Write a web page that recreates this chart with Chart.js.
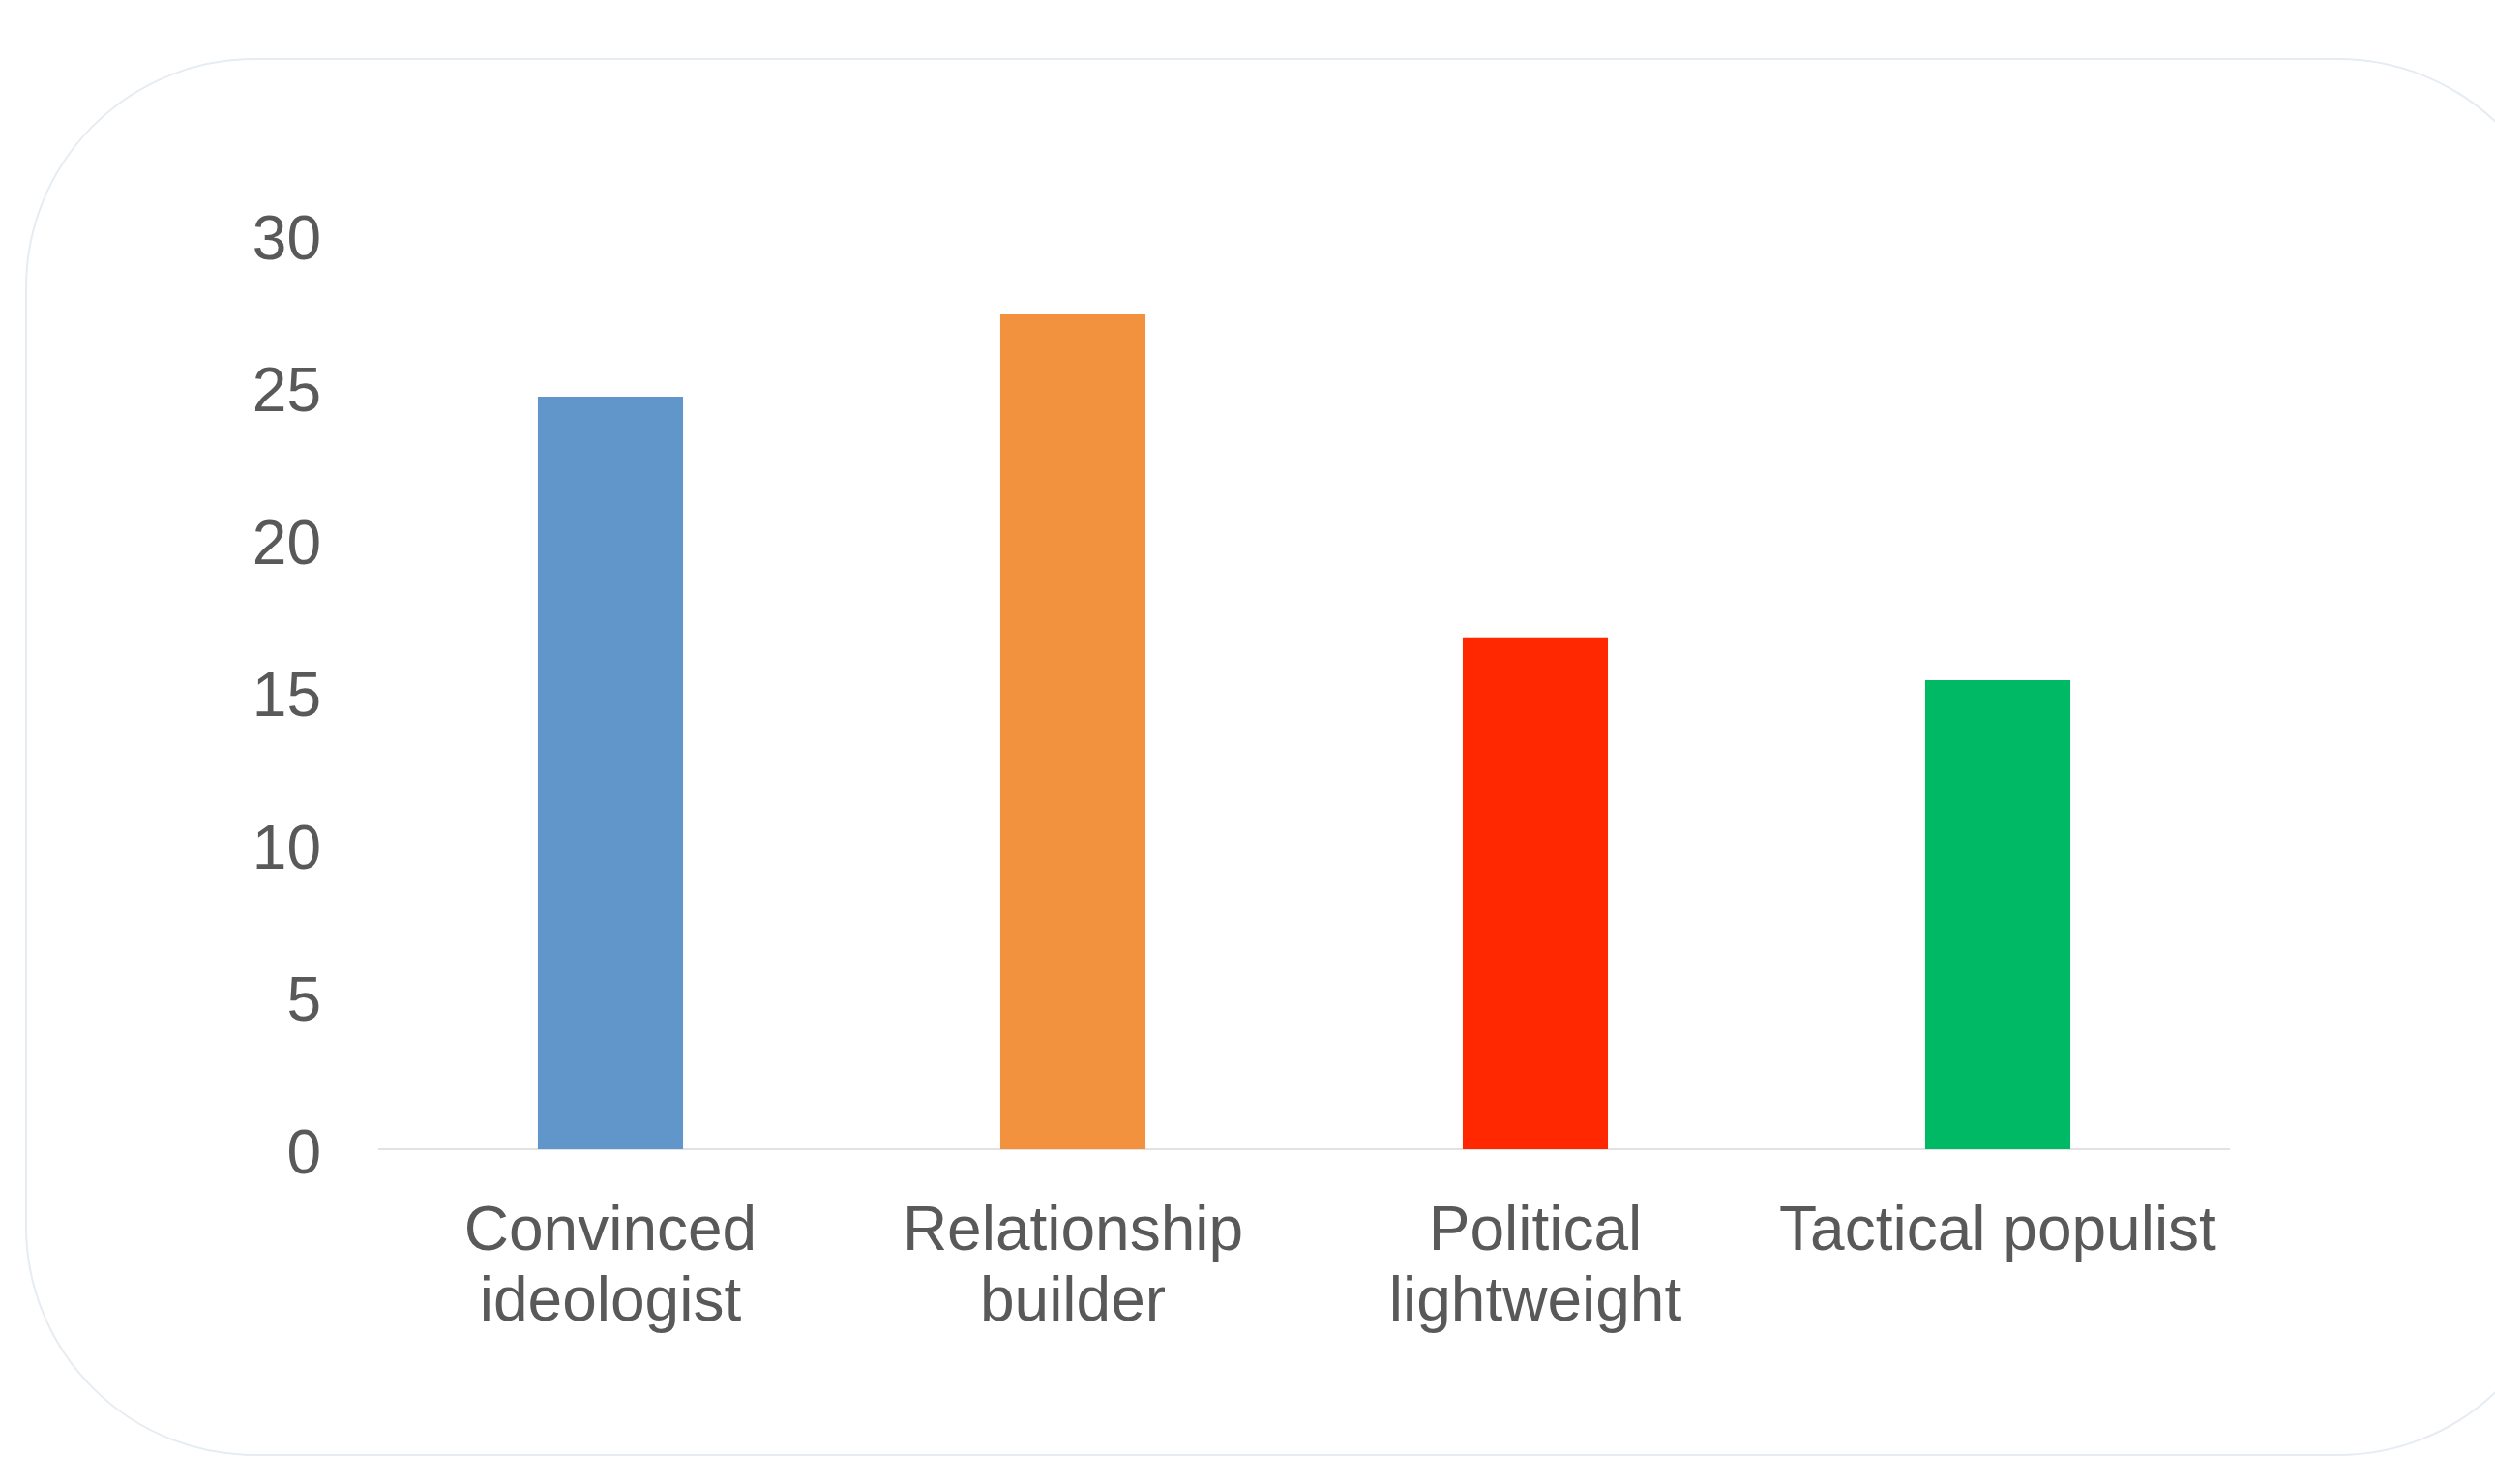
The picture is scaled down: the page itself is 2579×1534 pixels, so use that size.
<!DOCTYPE html>
<html>
<head>
<meta charset="utf-8">
<script src="https://cdn.jsdelivr.net/npm/chart.js@4/dist/chart.umd.min.js"></script>
<style>
  html, body { margin: 0; padding: 0; background: #ffffff; overflow: hidden; }
  #wrap { position: relative; width: 2579px; height: 1534px; }
  #frame {
    position: absolute; left: 26px; top: 60px; width: 2628px; height: 1445px;
    border: 2px solid #e6ecf1; border-radius: 237px; box-sizing: border-box;
  }
  #c { position: absolute; left: 0; top: 0; }
</style>
</head>
<body>
<div id="wrap">
  <div id="frame"></div>
  <canvas id="c" width="2579" height="1534"></canvas>
</div>
<script>
const categories = [
  ["Convinced", "ideologist"],
  ["Relationship", "builder"],
  ["Political", "lightweight"],
  "Tactical populist"
];
const values = [24.7, 27.4, 16.8, 15.4];
const barColors = ["#6096c9", "#f2913e", "#ff2800", "#00b964"];
const yTicks = [0, 5, 10, 15, 20, 25, 30];

const textColor = "#595959";
const fontFamily = "'Liberation Sans', Arial, Helvetica, sans-serif";

new Chart(document.getElementById("c"), {
  type: "bar",
  data: {
    labels: categories,
    datasets: [{
      data: values,
      backgroundColor: barColors,
      borderWidth: 0,
      barPercentage: 0.314,
      categoryPercentage: 1.0
    }]
  },
  options: {
    responsive: false,
    animation: false,
    devicePixelRatio: 1,
    layout: { padding: { top: 243, right: 275, bottom: 0, left: 0 } },
    plugins: { legend: { display: false }, tooltip: { enabled: false }, title: { display: false } },
    scales: {
      x: {
        grid: { display: false, drawTicks: false },
        border: { display: true, color: "#e2e2e2", width: 2 },
        ticks: {
          color: textColor,
          font: { family: fontFamily, size: 64, lineHeight: 1.14 },
          padding: 50,
          maxRotation: 0,
          autoSkip: false
        },
        afterFit: (s) => { s.height = 1534 - 1188; }
      },
      y: {
        min: 0, max: 30,
        afterBuildTicks: (s) => { s.ticks = yTicks.map(v => ({ value: v })); },
        grid: { display: false, drawTicks: false },
        border: { display: false },
        ticks: {
          color: textColor,
          font: { family: fontFamily, size: 64 },
          padding: 60,
          labelOffset: 7
        },
        afterFit: (s) => { s.width = 392; }
      }
    }
  }
});
</script>
</body>
</html>
